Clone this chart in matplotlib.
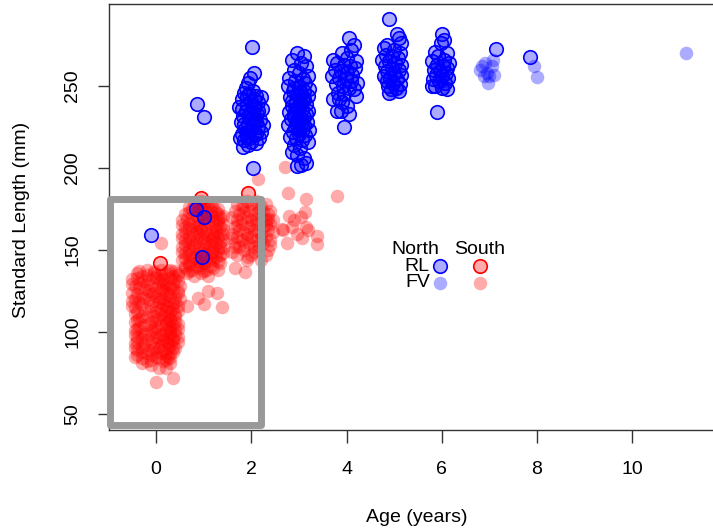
import matplotlib.pyplot as plt
from matplotlib.patches import Rectangle

plt.rcParams['font.family'] = ['Liberation Sans', 'DejaVu Sans']

# (age, standard length mm), grouped by region / group

# North, RL (blue, outlined)
north_rl = [
    (-0.1, 159), (0.86, 239), (1.0, 231), (0.84, 175), (1.0, 170), (0.97, 146),
    # age 2
    (2.02, 274), (2.05, 258), (1.97, 255), (1.92, 252), (2.03, 200),
    (1.85, 246), (1.95, 245), (2.1, 244), (2.2, 243), (1.8, 242), (2.0, 241),
    (2.15, 240), (1.9, 239), (2.05, 238), (1.75, 237), (2.22, 236), (1.88, 235),
    (2.0, 234), (2.12, 233), (1.82, 232), (1.95, 231), (2.08, 230), (2.18, 229),
    (1.78, 228), (1.92, 227), (2.04, 226), (2.14, 225), (1.86, 224), (1.98, 223),
    (2.2, 222), (1.8, 221), (2.06, 220), (1.9, 219), (2.16, 218), (1.84, 217),
    (2.0, 216), (2.1, 215), (1.94, 214), (1.76, 218), (2.24, 226), (1.83, 213),
    (2.03, 247), (1.88, 249),
    (1.9, 244), (2.05, 242), (1.8, 236), (2.15, 235), (1.95, 233), (2.1, 228),
    (1.85, 227), (2.0, 229), (1.9, 222), (2.1, 221), (1.95, 218), (2.05, 236),
    # age 3
    (2.95, 270), (3.1, 268), (2.85, 266), (3.05, 264), (3.15, 262), (2.9, 260),
    (3.0, 258), (3.2, 256), (2.8, 255), (3.08, 254), (2.92, 253), (3.12, 252),
    (2.78, 250), (3.0, 249), (3.22, 248), (2.88, 247), (3.04, 246), (2.96, 245),
    (3.18, 244), (2.82, 243), (3.1, 242), (2.94, 241), (3.02, 240), (3.14, 239),
    (2.86, 238), (2.98, 237), (3.06, 236), (3.2, 235), (2.8, 234), (2.9, 233),
    (3.0, 232), (3.1, 231), (2.84, 230), (2.96, 229), (3.16, 228), (3.04, 227),
    (2.76, 226), (2.92, 225), (3.08, 224), (3.22, 223), (2.88, 222), (3.0, 221),
    (3.12, 220), (2.82, 219), (2.94, 218), (3.06, 217), (3.18, 216), (2.9, 214),
    (3.02, 212), (2.86, 210), (2.96, 208), (3.1, 206), (2.95, 201), (3.05, 202),
    (3.15, 203),
    (2.9, 249), (3.1, 247), (3.0, 244), (2.85, 241), (3.05, 239), (2.95, 236),
    (3.15, 233), (2.9, 231), (3.05, 230), (2.95, 226), (3.1, 226), (3.0, 223),
    (2.92, 235), (3.08, 243),
    # age 4
    (4.05, 279), (4.15, 275), (4.1, 272), (3.9, 270), (3.72, 266), (4.0, 267),
    (4.2, 265), (3.8, 264), (3.95, 263), (4.08, 262), (4.18, 261), (3.75, 260),
    (3.88, 259), (4.02, 258), (4.12, 257), (3.7, 256), (3.85, 255), (3.98, 254),
    (4.1, 253), (4.22, 252), (3.78, 251), (3.92, 250), (4.05, 249), (4.15, 248),
    (3.82, 246), (3.95, 245), (4.2, 244), (3.72, 242), (3.9, 240), (4.0, 238),
    (3.88, 235), (3.8, 235), (4.05, 233), (3.95, 225), (3.85, 242),
    # age 5
    (4.9, 291), (5.05, 282), (5.1, 279), (5.15, 276), (4.85, 275), (4.78, 273),
    (5.0, 272), (5.12, 270), (4.82, 269), (4.95, 268), (5.08, 267), (4.75, 266),
    (4.9, 265), (5.02, 264), (5.15, 263), (4.8, 262), (4.96, 261), (5.1, 260),
    (4.86, 259), (5.0, 258), (5.14, 257), (4.78, 256), (4.92, 255), (5.06, 254),
    (4.84, 253), (4.98, 252), (5.12, 251), (4.88, 250), (5.04, 249), (4.94, 248),
    (5.1, 247), (4.9, 246),
    # age 6
    (6.0, 282), (6.05, 278), (5.98, 276), (5.85, 271), (6.1, 270), (5.92, 268),
    (6.05, 266), (5.8, 265), (6.15, 264), (5.9, 263), (6.02, 262), (6.12, 261),
    (5.84, 260), (5.96, 259), (6.08, 258), (5.88, 257), (6.0, 256), (6.14, 255),
    (5.82, 254), (5.94, 253), (6.06, 252), (5.86, 250), (6.0, 249), (6.1, 248),
    (5.8, 250), (5.9, 234),
    # ages 7-8
    (7.14, 272.6), (7.86, 267.7),
]

# North, FV (blue, filled only)
north_fv = [
    (4.95, 246), (4.8, 254), (5.1, 248),
    (5.85, 262), (5.95, 252), (6.1, 253), (6.05, 249),
    (6.95, 258), (6.85, 262), (6.9, 264), (7.05, 262), (7.0, 256), (6.88, 256),
    (7.1, 257), (6.98, 252), (6.8, 260), (7.08, 266),
    (7.94, 262), (8.0, 255.5), (11.13, 270),
]

# South, RL (red, outlined)
south_rl = [(0.08, 142), (0.94, 181.7), (1.92, 184.8)]

# South, FV (red, filled only)
south_fv = [
    # age 0, upper lobe
    (-0.2, 138), (0.1, 138), (0.3, 138),
    (-0.4, 136), (-0.05, 136), (0.2, 136), (0.45, 136),
    (-0.3, 134), (0.0, 134), (0.35, 134),
    (-0.5, 132), (-0.15, 132), (0.15, 132), (0.4, 132),
    (-0.35, 130), (0.05, 130), (0.25, 130),
    (-0.45, 128), (-0.1, 128), (0.2, 128), (0.5, 128),
    (-0.25, 126), (0.1, 126), (0.35, 126),
    (-0.5, 124), (-0.05, 124), (0.25, 124), (0.45, 124),
    (-0.3, 122), (0.0, 122), (0.3, 122),
    (-0.45, 120), (-0.15, 120), (0.15, 120), (0.5, 120),
    (-0.35, 118), (0.05, 118), (0.4, 118),
    (-0.5, 116), (-0.1, 116), (0.2, 116), (0.45, 116),
    (-0.25, 114), (0.1, 114), (0.35, 114),
    (-0.4, 112), (0.0, 112), (0.3, 112),
    (-0.3, 110), (-0.05, 110), (0.25, 110),
    (-0.35, 137), (-0.05, 137), (0.25, 137), (0.4, 137),
    (-0.2, 135), (0.1, 135), (0.45, 135), (-0.4, 133), (0.0, 133), (0.3, 133),
    (-0.25, 131), (0.1, 131), (0.45, 131),
    (-0.5, 129), (-0.2, 129), (0.15, 129), (0.35, 129),
    (-0.35, 127), (0.0, 127), (0.3, 127), (-0.15, 125), (0.15, 125), (0.45, 125),
    (-0.4, 123), (-0.1, 123), (0.2, 123), (-0.25, 121), (0.1, 121), (0.4, 121),
    (-0.5, 119), (-0.05, 119), (0.25, 119), (-0.3, 117), (0.15, 117), (0.35, 117),
    (-0.45, 115), (0.0, 115), (0.25, 115), (-0.15, 113), (0.2, 113), (0.45, 113),
    (-0.45, 111), (0.1, 111), (0.4, 111),
    # age 0, lower lobe
    (-0.35, 108), (0.05, 108), (0.3, 108),
    (-0.45, 106), (-0.1, 106), (0.2, 106), (0.4, 106),
    (-0.25, 104), (0.1, 104), (0.35, 104),
    (-0.4, 102), (-0.05, 102), (0.25, 102), (0.45, 102),
    (-0.3, 100), (0.0, 100), (0.3, 100),
    (-0.45, 98), (-0.15, 98), (0.15, 98), (0.4, 98),
    (-0.3, 96), (0.05, 96), (0.35, 96),
    (-0.4, 94), (-0.1, 94), (0.2, 94), (0.45, 94),
    (-0.25, 92), (0.1, 92), (0.3, 92),
    (-0.45, 90), (-0.05, 90), (0.25, 90), (0.4, 90),
    (-0.3, 88), (0.0, 88), (0.35, 88),
    (-0.4, 86), (-0.1, 86), (0.2, 86),
    (-0.3, 84), (0.05, 84), (0.3, 84),
    (-0.2, 82), (0.15, 82), (-0.1, 80), (0.05, 78), (0.2, 78),
    (-0.2, 109), (0.15, 109), (0.4, 109), (-0.4, 107), (0.0, 107), (0.3, 107),
    (-0.15, 105), (0.2, 105), (0.45, 105), (-0.35, 103), (0.0, 103), (0.3, 103),
    (-0.45, 101), (-0.1, 101), (0.2, 101), (0.4, 101),
    (-0.25, 99), (0.1, 99), (0.3, 99), (-0.4, 97), (0.0, 97), (0.25, 97),
    (0.45, 97), (-0.2, 95), (0.15, 95), (0.35, 95),
    (-0.45, 93), (-0.05, 93), (0.25, 93), (-0.3, 91), (0.05, 91), (0.35, 91),
    (-0.4, 89), (-0.15, 89), (0.15, 89), (-0.2, 87), (0.1, 87), (0.3, 87),
    (-0.45, 85), (0.0, 85), (0.25, 85), (-0.1, 83), (0.2, 83),
    (-0.3, 81), (0.3, 81),
    (0.0, 69.5), (0.35, 72), (0.1, 154),
    # between ages 0 and 1
    (0.65, 116), (0.89, 120.7), (1.0, 117), (1.09, 125), (1.28, 123.8),
    (1.39, 115),
    # age 1
    (0.95, 180), (0.8, 178), (1.1, 178), (0.7, 176), (1.0, 176), (1.2, 176),
    (0.85, 174), (1.15, 174), (0.6, 172), (0.95, 172), (1.3, 172),
    (0.75, 170), (1.05, 170), (1.35, 170), (0.55, 168), (0.9, 168), (1.2, 168),
    (0.7, 166), (1.0, 166), (1.4, 166), (0.6, 164), (0.85, 164), (1.15, 164),
    (1.35, 164), (0.75, 162), (1.05, 162), (1.25, 162),
    (0.55, 160), (0.9, 160), (1.2, 160), (1.4, 160), (0.7, 158), (1.0, 158),
    (1.3, 158), (0.6, 156), (0.85, 156), (1.15, 156), (1.4, 156),
    (0.75, 154), (1.05, 154), (1.25, 154), (0.55, 152), (0.9, 152), (1.2, 152),
    (1.35, 152), (0.7, 150), (1.0, 150), (1.3, 150),
    (0.6, 148), (0.85, 148), (1.15, 148), (1.4, 148), (0.75, 146), (1.05, 146),
    (1.25, 146), (0.55, 144), (0.9, 144), (1.2, 144), (0.7, 142), (1.0, 142),
    (1.35, 142), (0.6, 140), (0.85, 140), (1.15, 140),
    (0.75, 138), (1.05, 138), (1.3, 138), (0.65, 136), (0.95, 136),
    (0.8, 134), (1.1, 134),
    (0.85, 179), (1.05, 179), (0.9, 177), (1.15, 177), (0.75, 175), (0.95, 175),
    (1.3, 175), (0.7, 173), (1.05, 173), (1.25, 173), (0.85, 171), (1.15, 171),
    (1.4, 171), (0.65, 169), (1.0, 169), (1.3, 169), (0.8, 167), (1.1, 167),
    (1.3, 167), (0.55, 165), (0.9, 165), (1.25, 165), (0.7, 163), (0.95, 163),
    (1.4, 163), (0.6, 161), (0.85, 161), (1.15, 161), (0.8, 159), (1.1, 159),
    (1.35, 159), (0.55, 157), (0.95, 157), (1.2, 157), (0.7, 155), (1.0, 155),
    (1.35, 155), (0.6, 153), (0.8, 153), (1.15, 153), (0.8, 151), (1.1, 151),
    (1.4, 151), (0.55, 149), (0.95, 149), (1.2, 149), (0.7, 147), (1.0, 147),
    (1.35, 147), (0.6, 145), (0.8, 145), (1.15, 145), (0.85, 143), (1.1, 143),
    (1.3, 143), (0.7, 141), (0.95, 141), (0.6, 139), (0.9, 139), (1.2, 139),
    (0.7, 137), (1.0, 137),
    # age 2
    (1.9, 180), (2.1, 180), (1.7, 178), (2.0, 178), (2.3, 178), (1.8, 176),
    (2.15, 176), (1.65, 174), (1.95, 174), (2.25, 174), (2.4, 174),
    (1.75, 172), (2.05, 172), (2.35, 172), (1.6, 170), (1.9, 170), (2.2, 170),
    (1.7, 168), (2.0, 168), (2.3, 168), (2.45, 168), (1.8, 166), (2.1, 166),
    (2.4, 166), (1.65, 164), (1.95, 164), (2.25, 164), (1.75, 162), (2.05, 162),
    (2.35, 162), (1.6, 160), (1.9, 160), (2.2, 160), (1.7, 158), (2.0, 158),
    (2.3, 158), (1.8, 156), (2.1, 156), (2.4, 156), (1.65, 154), (1.95, 154),
    (2.25, 154), (1.75, 152), (2.05, 152), (1.85, 150), (2.15, 150),
    (2.35, 150), (1.7, 147), (2.0, 147), (2.3, 147), (1.9, 144), (2.2, 144),
    (1.66, 139), (1.87, 136.6), (1.66, 152), (1.93, 146),
    (1.85, 177), (2.2, 177), (1.85, 173), (2.15, 173), (1.8, 169), (2.1, 169),
    (2.35, 169), (1.7, 165), (2.0, 165), (2.3, 165), (1.85, 161), (2.15, 161),
    (2.45, 161), (1.6, 157), (1.9, 157), (2.2, 157), (1.85, 153), (2.15, 153),
    (2.4, 153), (1.6, 149), (2.05, 149),
    # age 3 and beyond
    (2.14, 193), (2.71, 200.6), (2.77, 184.8), (3.15, 181), (3.8, 183),
    (2.79, 171), (3.13, 173), (2.67, 162), (2.75, 154), (3.07, 157),
    (3.38, 158.5), (3.38, 153.7), (3.15, 164), (2.86, 164), (2.65, 163),
    (2.9, 168), (3.05, 170), (3.2, 162), (2.95, 160),
]

legend_cols = ['North', 'South']
legend_rows = ['RL', 'FV']

BLUE = '#0000ff'
RED = '#ff0000'
ALPHA = 0.33


def fill(c):
    return (*plt.matplotlib.colors.to_rgb(c), ALPHA)


def xs(pts):
    return [p[0] for p in pts]


def ys(pts):
    return [p[1] for p in pts]


fig = plt.figure(figsize=(7.13, 5.30), dpi=100)
ax = fig.add_axes([109 / 713, 1 - 430 / 530, 616 / 713, 426 / 530])

size = 95
ax.scatter(xs(south_fv), ys(south_fv), s=size, color=fill(RED), linewidths=0)
ax.scatter(xs(south_rl), ys(south_rl), s=size, facecolor=fill(RED),
           edgecolor=RED, linewidths=1.2)
ax.scatter(xs(north_fv), ys(north_fv), s=size, color=fill(BLUE), linewidths=0)
ax.scatter(xs(north_rl), ys(north_rl), s=size, facecolor=fill(BLUE),
           edgecolor=BLUE, linewidths=1.2)

# legend drawn as a small table inside the plot
ax.text(5.44, 150, legend_cols[0], ha='center', va='center', fontsize=14)
ax.text(6.79, 150, legend_cols[1], ha='center', va='center', fontsize=14)
ax.text(5.75, 140.2, legend_rows[0], ha='right', va='center', fontsize=14)
ax.text(5.75, 129.9, legend_rows[1], ha='right', va='center', fontsize=14)
ax.scatter([5.97], [140.2], s=size, facecolor=fill(BLUE), edgecolor=BLUE, linewidths=1.2)
ax.scatter([6.81], [140.2], s=size, facecolor=fill(RED), edgecolor=RED, linewidths=1.2)
ax.scatter([5.97], [129.9], s=size, color=fill(BLUE), linewidths=0)
ax.scatter([6.81], [129.9], s=size, color=fill(RED), linewidths=0)

ax.add_patch(Rectangle((-0.977, 43.3), 3.172, 137.5, fill=False,
                       edgecolor='#999999', linewidth=5, joinstyle='round',
                       zorder=5, clip_on=False))

ax.set_xlim(-0.99, 11.95)
ax.set_ylim(40.2, 300)
ax.spines['right'].set_visible(False)
for s in ['left', 'bottom', 'top']:
    ax.spines[s].set_color('#333333')
    ax.spines[s].set_linewidth(1.0)

ax.set_xticks([0, 2, 4, 6, 8, 10])
ax.set_yticks([50, 100, 150, 200, 250])
ax.tick_params(axis='x', length=9, width=1, pad=13, labelsize=14, color='#333333')
ax.tick_params(axis='y', length=8, width=1, pad=12, labelsize=14, color='#333333')
for lab in ax.get_yticklabels():
    lab.set_rotation(90)
    lab.set_va('center')

fig.text(417 / 713, 1 - 518 / 530, 'Age (years)', ha='center', va='center', fontsize=14)
fig.text(22 / 713, 1 - 220 / 530, 'Standard Length (mm)', ha='center', va='center',
         rotation=90, fontsize=14)

fig.savefig('out.png', dpi=100)
